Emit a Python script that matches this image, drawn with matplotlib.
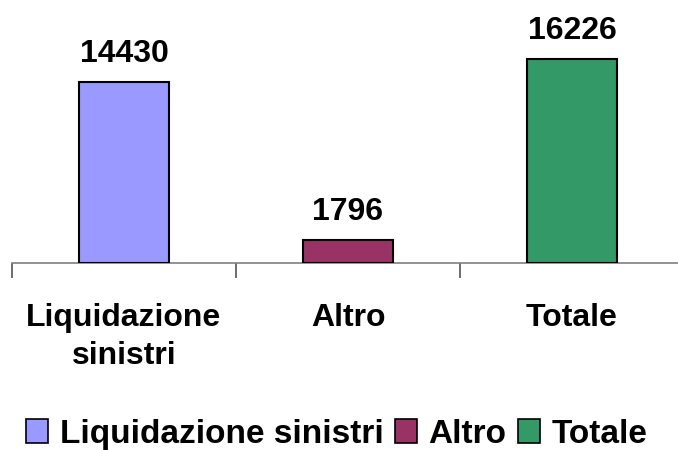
import matplotlib
matplotlib.use("Agg")
import matplotlib.pyplot as plt
from matplotlib.patches import Patch

categories = ["Liquidazione\nsinistri", "Altro", "Totale"]
legend_names = ["Liquidazione sinistri", "Altro", "Totale"]
values = [14430, 1796, 16226]
colors = ["#9999FF", "#993366", "#339966"]

plt.rcParams["font.family"] = ["Liberation Sans", "DejaVu Sans"]
plt.rcParams["font.weight"] = "bold"

fig = plt.figure(figsize=(6.78, 4.5), dpi=100)
ax = fig.add_axes([12 / 678, 187 / 450, 672 / 678, 226 / 450])

x = list(range(len(values)))
bars = ax.bar(x, values, width=0.4, color=colors, edgecolor="black", linewidth=1.5, zorder=3)

for b, v in zip(bars, values):
    ax.annotate(str(v), (b.get_x() + b.get_width() / 2, v), xytext=(0, 14.5),
                textcoords="offset points", ha="center", va="baseline",
                fontsize=23, fontweight="bold", annotation_clip=False)

ax.set_xlim(-0.5, 2.5)
ax.set_ylim(0, 18000)

for s in ["top", "right", "left"]:
    ax.spines[s].set_visible(False)
ax.spines["bottom"].set_color("#808080")
ax.spines["bottom"].set_linewidth(1.2)
ax.set_yticks([])

# ticks on the category borders, labels in the middle
ax.set_xticks([-0.5, 0.5, 1.5, 2.5])
ax.set_xticklabels([])
ax.tick_params(axis="x", which="major", length=11, width=1.2, color="#555555")
ax.set_xticks(x, minor=True)
ax.set_xticklabels(categories, minor=True, fontsize=23, fontweight="bold",
                   linespacing=1.35)
ax.tick_params(axis="x", which="minor", length=0, pad=29)

handles = [Patch(facecolor=c, edgecolor="black", linewidth=1.2) for c in colors]
fig.legend(handles, legend_names, loc="center", bbox_to_anchor=(0.497, 0.035), ncol=3,
           frameon=False, handlelength=0.65, handleheight=0.7,
           handletextpad=0.35, columnspacing=0.35, borderaxespad=0,
           prop={"weight": "bold", "size": 24})

fig.savefig("out.png", dpi=100)
